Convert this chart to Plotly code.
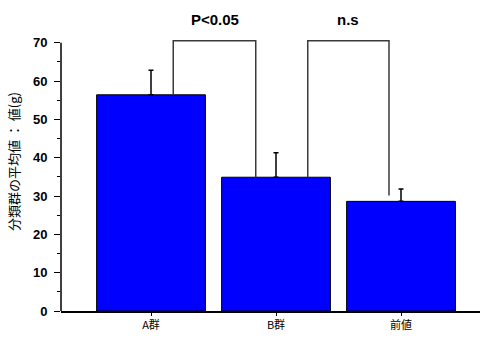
import plotly.graph_objects as go

categories = ["A群", "B群", "前値"]
means = [56.4, 34.9, 28.6]
errors_plus = [6.4, 6.4, 3.2]

y_tick_vals = [0, 10, 20, 30, 40, 50, 60, 70]
y_title = "分類群の平均値 ： 値(g)"

# significance brackets: (left leg x, right leg x, left leg bottom, right leg bottom, label)
bracket_labels = ["P<0.05", "n.s"]
bracket_left = [0.178, 1.254]
bracket_right = [0.838, 1.904]
bracket_left_bottom = [56.4, 34.9]
bracket_right_bottom = [34.9, 30.1]
bracket_top = 70.5
label_y = 76

fig = go.Figure()
fig.add_trace(go.Bar(
    x=list(range(len(categories))), y=means, width=0.87,
    marker=dict(color="#0000FF", line=dict(color="black", width=1)),
    error_y=dict(type="data", array=errors_plus, arrayminus=[0]*3, symmetric=False,
                 color="black", thickness=1.5, width=2.5),
    showlegend=False,
))

shapes = []
annotations = []
for i in range(len(bracket_labels)):
    pts = [(bracket_left[i], bracket_left_bottom[i]), (bracket_left[i], bracket_top),
           (bracket_right[i], bracket_top), (bracket_right[i], bracket_right_bottom[i])]
    path = "M " + " L ".join(f"{x},{y}" for x, y in pts)
    shapes.append(dict(type="path", path=path, xref="x", yref="y",
                       line=dict(color="#3a3a3a", width=1.5), layer="above"))
    annotations.append(dict(x=(bracket_left[i] + bracket_right[i]) / 2, y=label_y,
                            xref="x", yref="y", text=f"<b>{bracket_labels[i]}</b>", showarrow=False,
                            font=dict(family="Liberation Sans, Arial", size=15, color="black")))

# y-axis line only up to 70
shapes.append(dict(type="line", xref="paper", yref="y", x0=0, x1=0, y0=0, y1=70,
                   line=dict(color="black", width=1.5)))

fig.update_layout(
    width=486, height=338,
    margin=dict(l=61, r=6, t=12, b=27),
    plot_bgcolor="white", paper_bgcolor="white",
    shapes=shapes, annotations=annotations,
    font=dict(family="Liberation Sans, Arial", size=11, color="black"),
    xaxis=dict(range=[-0.72, 2.632], tickvals=list(range(len(categories))),
               ticktext=categories, showline=True, linecolor="black", linewidth=1.5,
               ticks="outside", ticklen=3, tickcolor="black", showgrid=False, zeroline=False,
               automargin=False,
               tickfont=dict(family="Noto Sans CJK JP", size=11)),
    yaxis=dict(range=[0, 78], tickvals=y_tick_vals, showline=False, ticks="outside",
               ticklen=6, tickcolor="black", tickwidth=1.2, showgrid=False, zeroline=False,
               automargin=False, ticklabelstandoff=4,
               tickfont=dict(size=13, weight="bold"),
               minor=dict(tickvals=[5, 15, 25, 35, 45, 55, 65], ticks="outside", ticklen=3,
                          tickcolor="black", showgrid=False),
               title=dict(text=y_title, standoff=10,
                          font=dict(family="Noto Sans CJK JP", size=13))),
    bargap=0.13,
)

fig.write_html("out.html", config={"displayModeBar": False},
               post_script="document.body.style.margin='0';document.body.style.overflow='hidden';")
